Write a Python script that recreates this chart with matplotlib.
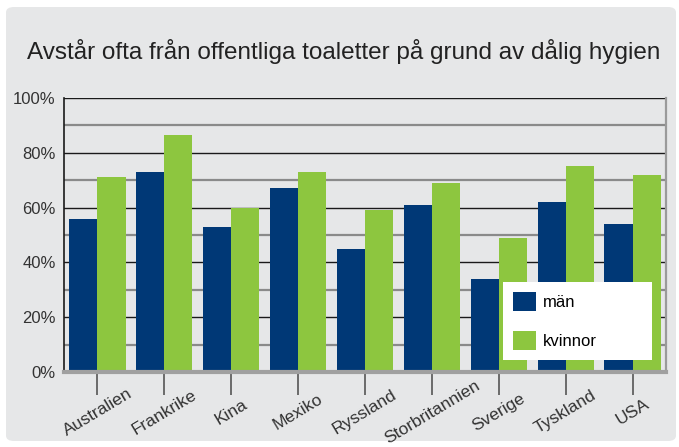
import matplotlib
matplotlib.use("Agg")
import matplotlib.pyplot as plt
import numpy as np
from matplotlib.patches import FancyBboxPatch

categories = ["Australien", "Frankrike", "Kina", "Mexiko", "Ryssland",
              "Storbritannien", "Sverige", "Tyskland", "USA"]
man = [56, 73, 53, 67, 45, 61, 34, 62, 54]
kvinnor = [71, 86.5, 60, 73, 59, 69, 49, 75, 72]
series_names = ["män", "kvinnor"]
yticks = [0, 20, 40, 60, 80, 100]
ytick_labels = ["0%", "20%", "40%", "60%", "80%", "100%"]
title = "Avstår ofta från offentliga toaletter på grund av dålig hygien"

blue = "#003876"
green = "#8dc63f"
bg = "#e6e7e8"

plt.rcParams['font.family'] = ['Liberation Sans', 'DejaVu Sans']

fig = plt.figure(figsize=(6.79, 4.47), dpi=100)
fig.patch.set_facecolor("white")
bgpatch = FancyBboxPatch((6/679, 6/447), 670/679, 434/447,
                         boxstyle="round,pad=0,rounding_size=0.012",
                         transform=fig.transFigure, facecolor=bg,
                         edgecolor="none", zorder=-10)
fig.patches.append(bgpatch)

ax = fig.add_axes([64/679, (447-372)/447, 602/679, 274/447])
ax.set_facecolor(bg)

x = np.arange(len(categories))
w = 0.42
ax.bar(x - w/2, man, width=w, color=blue, label=series_names[0], zorder=3)
ax.bar(x + w/2, kvinnor, width=w, color=green, label=series_names[1], zorder=3)

ax.set_xlim(-0.5, len(categories) - 0.5)
ax.set_ylim(0, 100)
for v in range(10, 100, 20):
    ax.axhline(v, color="#8a8a8a", lw=1.6, zorder=1)
for v in range(20, 101, 20):
    ax.axhline(v, color="#1a1a1a", lw=1.0, zorder=1)

ax.set_yticks(yticks)
ax.set_yticklabels(ytick_labels, fontsize=12, color="#333333")
ax.tick_params(axis="y", length=0, pad=6)
ax.set_xticks(x)
ax.set_xticklabels(categories, rotation=31, ha="center", va="center",
                   fontsize=12.5, color="#333333")
ax.tick_params(axis="x", length=16.5, width=1.2, color="#555555", pad=12.3, direction="out")

ax.spines["top"].set_visible(False)
ax.spines["left"].set_color("#1a1a1a")
ax.spines["left"].set_linewidth(1.2)
ax.spines["right"].set_color("#9a9a9a")
ax.spines["right"].set_linewidth(1.6)
ax.spines["bottom"].set_color("#a0a0a0")
ax.spines["bottom"].set_linewidth(3)
ax.spines["bottom"].set_zorder(4)

leg = ax.legend(loc="lower left", mode="expand",
                bbox_to_anchor=(503/679, (447-360)/447, 149/679, 0.01),
                bbox_transform=fig.transFigure,
                fontsize=12, frameon=True, fancybox=False, handlelength=1.35,
                handleheight=1.35, labelspacing=1.22, borderpad=0.6, handletextpad=0.42,
                borderaxespad=0)
leg.get_frame().set_facecolor("white")
leg.get_frame().set_edgecolor("white")
leg.get_frame().set_alpha(1)
leg.get_frame().set_linewidth(0)
leg.set_zorder(5)

fig.text(344/679, (447-52)/447, title, ha="center", va="center", fontsize=17.5, color="#222222")

fig.savefig("out.png", dpi=100, facecolor="white")
